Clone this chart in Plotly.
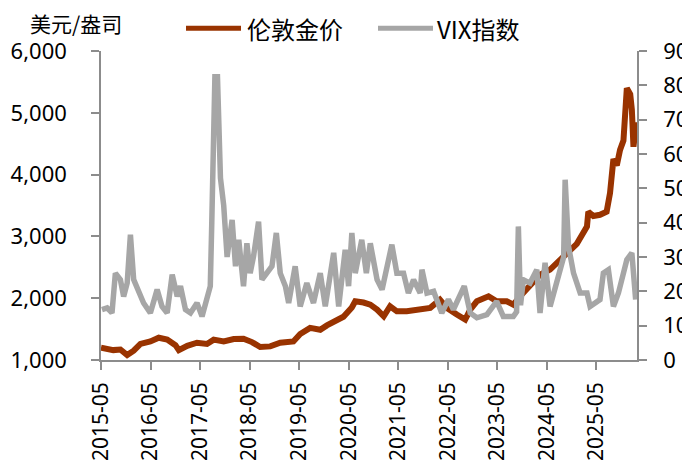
import plotly.graph_objects as go

# ---- data ----
gold_dates = ["2015-05-01","2015-06-15","2015-07-31","2015-09-21","2015-11-10","2015-12-28",
              "2016-02-16","2016-04-29","2016-06-30","2016-08-31","2016-10-31","2016-11-25",
              "2017-01-26","2017-04-08","2017-06-21","2017-08-09","2017-10-22","2018-01-04",
              "2018-03-17","2018-05-18","2018-07-18","2018-09-30","2018-12-13","2019-03-20",
              "2019-05-09","2019-07-21","2019-10-04","2019-11-22","2020-02-05","2020-03-23",
              "2020-05-24","2020-06-18","2020-08-18","2020-10-07","2020-11-26","2021-01-14",
              "2021-03-02","2021-04-21","2021-07-03","2021-09-16","2021-12-23","2022-03-05",
              "2022-04-25","2022-07-07","2022-09-07","2022-10-14","2022-12-02","2023-02-26",
              "2023-04-27","2023-07-10","2023-08-28","2023-10-17","2023-12-29","2024-03-12",
              "2024-05-25","2024-08-07","2024-09-26","2024-12-08","2025-02-21","2025-03-03",
              "2025-04-09","2025-05-28","2025-07-16","2025-08-10","2025-09-04","2025-09-29",
              "2025-10-23","2025-11-17","2025-12-12","2026-01-06","2026-01-18","2026-01-30",
              "2026-02-19"]
gold_price = [1200, 1180, 1160, 1170, 1080, 1150,
              1260, 1300, 1360, 1330, 1240, 1160,
              1230, 1280, 1260, 1330, 1300, 1340,
              1345, 1290, 1210, 1220, 1280, 1300,
              1420, 1520, 1490, 1560, 1640, 1700,
              1850, 1950, 1930, 1896, 1815, 1708,
              1870, 1788, 1788, 1815, 1843, 1977,
              1843, 1735, 1654, 1815, 1950, 2031,
              1950, 1950, 1896, 2031, 2200, 2380,
              2462, 2624, 2731, 2880, 3161, 3400,
              3330, 3350, 3400, 3700, 4250, 4150,
              4400, 4550, 5400, 5300, 5050, 4450,
              4850]

vix_dates = ["2015-05-08","2015-06-15","2015-07-21","2015-08-15","2015-09-21","2015-10-15",
             "2015-11-10","2015-12-04","2015-12-28","2016-02-04","2016-03-10","2016-04-29",
             "2016-06-18","2016-07-24","2016-08-31","2016-10-07","2016-11-13","2016-12-07",
             "2017-01-13","2017-02-19","2017-04-08","2017-05-15","2017-06-21","2017-07-15",
             "2017-07-26","2017-08-09","2017-08-18","2017-09-06","2017-09-17","2017-09-28",
             "2017-10-22","2017-11-16","2017-12-23","2018-01-17","2018-02-10","2018-03-17",
             "2018-04-11","2018-05-05","2018-05-30","2018-07-06","2018-07-31","2018-09-07",
             "2018-10-13","2018-11-14","2018-12-13","2019-01-20","2019-02-13","2019-04-02",
             "2019-05-09","2019-06-27","2019-08-15","2019-10-04","2019-11-10","2020-01-11",
             "2020-02-17","2020-04-05","2020-04-30","2020-05-24","2020-06-18","2020-08-05",
             "2020-09-08","2020-10-07","2020-11-26","2021-01-02","2021-03-15","2021-04-21",
             "2021-06-09","2021-07-15","2021-08-22","2021-10-10","2021-10-23","2021-11-29",
             "2022-01-17","2022-03-18","2022-05-06","2022-06-12","2022-07-19","2022-08-31",
             "2022-10-14","2022-12-02","2023-02-14","2023-04-27","2023-06-15","2023-08-28",
             "2023-09-21","2023-10-04","2023-10-20","2023-11-10","2023-12-29","2024-02-17",
             "2024-03-12","2024-04-18","2024-05-25","2024-07-13","2024-08-07","2024-09-02",
             "2024-09-13","2024-09-24","2024-10-08","2024-11-14","2025-01-02","2025-02-21",
             "2025-03-16","2025-05-28","2025-06-22","2025-07-29","2025-09-04","2025-10-11",
             "2025-12-12","2026-01-18","2026-02-15"]
vix_index = [14.7, 15.2, 13.7, 25.3, 23.4, 18.5,
             22.4, 36.5, 23.4, 19.5, 16.6, 13.7,
             20.5, 15.6, 13.7, 24.9, 18.5, 21.5,
             14.7, 13.7, 16.6, 12.7, 18.5, 21.5,
             40.0, 60.0, 82.5, 82.5, 62.0, 53.0,
             45.0, 30.0, 40.8, 27.3, 35.0, 21.5,
             34.0, 25.3, 30.2, 40.3, 23.4, 25.3,
             27.3, 37.0, 25.3, 21.5, 16.6, 27.3,
             15.6, 22.4, 16.6, 25.3, 15.6, 31.2,
             15.6, 32.1, 21.5, 37.0, 25.3, 35.0,
             25.3, 34.0, 23.4, 20.5, 33.6, 25.3,
             25.3, 19.5, 23.4, 19.5, 26.3, 19.5,
             20.0, 13.7, 17.6, 14.7, 18.0, 21.5,
             13.7, 12.3, 13.2, 17.1, 12.7, 12.7,
             14.0, 38.9, 16.0, 23.4, 22.4, 26.3,
             13.7, 28.3, 15.6, 22.4, 27.3, 30.0,
             52.5, 40.0, 33.1, 25.3, 19.5, 19.5,
             15.6, 17.6, 25.3, 26.3, 15.6, 19.5,
             29.2, 31.2, 17.6]

x_tick_dates = ["2015-05-01","2016-05-01","2017-05-01","2018-05-01","2019-05-01","2020-05-01",
                "2021-05-01","2022-05-01","2023-05-01","2024-05-01","2025-05-01"]
x_tick_labels = ["2015-05","2016-05","2017-05","2018-05","2019-05","2020-05",
                 "2021-05","2022-05","2023-05","2024-05","2025-05"]
left_ticks = [1000, 2000, 3000, 4000, 5000, 6000]
right_ticks = [0, 10, 20, 30, 40, 50, 60, 70, 80, 90]

series_names = ["伦敦金价", "VIX指数"]
unit_label = "美元/盎司"

GOLD = "#993300"
GRAY = "#A6A6A6"
AXIS = "#8C8C8C"
LAT = "Noto Sans"
CJK = "Noto Sans CJK SC"

fig = go.Figure()
fig.add_trace(go.Scatter(x=gold_dates, y=gold_price, mode="lines", name=series_names[0],
                         line=dict(color=GOLD, width=6), yaxis="y", showlegend=False))
fig.add_trace(go.Scatter(x=vix_dates, y=vix_index, mode="lines", name=series_names[1],
                         line=dict(color=GRAY, width=5.5), yaxis="y2", showlegend=False))

axis_common = dict(showline=True, linecolor=AXIS, linewidth=1.5, ticks="outside",
                   ticklen=8, tickcolor=AXIS, tickwidth=1.5, showgrid=False, zeroline=False,
                   automargin=False)

# the page body adds an 8px offset, so the figure is sized 8px smaller
fig.update_layout(
    width=682, height=458,
    margin=dict(l=93, r=53, t=43, b=105.5, autoexpand=False),
    paper_bgcolor="white", plot_bgcolor="white",
    xaxis=dict(type="date", range=["2015-05-01", "2026-02-25"],
               tickvals=x_tick_dates, ticktext=x_tick_labels, tickangle=-90,
               tickfont=dict(family=LAT, size=21, color="#000000"),
               ticklabelstandoff=4, **axis_common),
    yaxis=dict(range=[1000, 6000], tickvals=left_ticks, tickformat=",",
               tickfont=dict(family=LAT, size=22, color="#000000"),
               ticklabelstandoff=20, **axis_common),
    yaxis2=dict(range=[0, 90], tickvals=right_ticks, overlaying="y", side="right",
                anchor="x", tickfont=dict(family=LAT, size=22, color="#000000"),
                ticklabelstandoff=12, **axis_common),
    showlegend=False,
)

# custom legend (long line samples like the reference)
fig.add_shape(type="line", xref="paper", yref="paper", x0=0.1586, x1=0.2612, y0=1.074, y1=1.074,
              line=dict(color=GOLD, width=5))
fig.add_shape(type="line", xref="paper", yref="paper", x0=0.5168, x1=0.6194, y0=1.074, y1=1.074,
              line=dict(color=GRAY, width=5))
fig.add_annotation(xref="paper", yref="paper", x=0.268, y=1.074, xanchor="left", yanchor="middle",
                   text=series_names[0], showarrow=False,
                   font=dict(family=CJK, size=24, color="#000000"))
fig.add_annotation(xref="paper", yref="paper", x=0.624, y=1.074, xanchor="left", yanchor="middle",
                   text=series_names[1], showarrow=False,
                   font=dict(family=CJK, size=24, color="#000000"))
fig.add_annotation(xref="paper", yref="paper", x=-0.136, y=1.090, xanchor="left", yanchor="middle",
                   text=unit_label, showarrow=False,
                   font=dict(family=CJK, size=21, color="#000000"))

fig.write_html("out.html")
